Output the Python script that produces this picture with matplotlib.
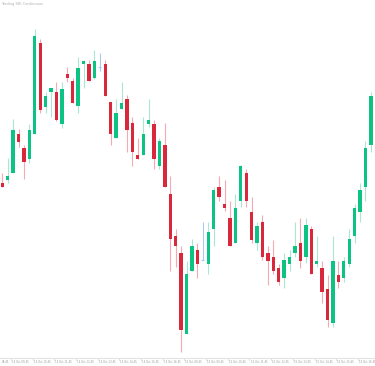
import matplotlib.pyplot as plt
import matplotlib.transforms as mtransforms

# OHLC values (one entry per candle)
opens = [174.7, 178, 185.3, 224, 210.3, 199.3, 223.7, 315.3, 251.3, 266,
         266, 234, 283.7, 276.7, 252, 294, 294, 280, 290.7, 294,
         255.7, 220.3, 248.7, 259, 234.7, 202.7, 202.7, 234.3, 234.3, 192.3,
         213.3, 164.3, 122.3, 104.7, 24, 87, 108, 97.7, 94, 129.3,
         171.3, 153.7, 139.7, 115.3, 157.3, 185.3, 146.3, 115.3, 136, 104.7,
         101.3, 90.3, 79.7, 94, 104.7, 115.3, 101.3, 129, 94, 90.3,
         69.3, 34.7, 83.3, 79.7, 94, 122, 146.3, 171.3, 213]
highs = [185, 200, 239, 229, 213, 234, 329.3, 318.7, 266.3, 269.7,
         276.3, 276.3, 290.7, 279.7, 301.3, 298, 298, 308, 304.7, 298,
         255.7, 258.7, 276.3, 263, 241.3, 219.7, 241.3, 259, 238, 220.3,
         234.7, 182, 129, 112, 97, 118.7, 114.7, 136, 136, 171.3,
         182, 178.3, 157.3, 164.3, 193, 188.7, 160.7, 136, 143, 112,
         118, 94, 104.7, 108, 136.3, 139.7, 139.7, 132.3, 122, 97.3,
         83, 122, 97.3, 101.3, 129, 153.7, 174.7, 216.7, 266.3]
lows = [171, 175, 185, 211, 179, 195.3, 223.7, 244.7, 244.7, 241.3,
        237.3, 230.3, 276.3, 254.7, 244.7, 269.7, 276.7, 278.7, 287.3, 262.3,
        213, 220.3, 248.7, 206.3, 192.3, 199.3, 202.7, 231, 188.7, 188.7,
        171.3, 87, 90.7, 6.3, 24, 87, 79.7, 97.7, 83.7, 111.7,
        157.3, 146.7, 111.7, 115.3, 151.3, 150.7, 114.7, 108, 98, 73,
        83.7, 73, 69.7, 87, 101.3, 90.3, 94.7, 83.7, 90.7, 55.3,
        30.7, 30.7, 69.7, 76.3, 90.7, 115.3, 136.3, 157.3, 206.3]
closes = [171.3, 182, 228, 216.3, 195.7, 228, 322, 248, 262.3, 269.7,
          238, 269.3, 280.3, 255.3, 290.3, 297.3, 276.7, 297.3, 290.7, 262.3,
          223.7, 245, 255.3, 227.7, 206.3, 199.3, 224, 238, 199.3, 216.7,
          171.3, 118.7, 112, 27.7, 83.7, 111.7, 94, 97.7, 125.7, 167.7,
          160.7, 150.3, 111.7, 150.3, 192, 157.3, 118, 132.3, 101.3, 97.3,
          87, 76.3, 98, 101.3, 112, 97.3, 132.7, 83.7, 97.3, 65.7,
          38, 97.3, 76.3, 97.3, 118.7, 150.3, 167.7, 209.7, 262.3]

tick_idx = [2, 6, 10, 14, 18, 22, 26, 30, 34, 38, 42, 46, 50, 54, 58, 62, 66]
tick_labels = ["14 Oct 09:45", "14 Oct 10:45", "14 Oct 11:45",
               "14 Oct 12:45", "14 Oct 13:45", "14 Oct 14:45", "14 Oct 15:45",
               "14 Oct 16:45", "15 Oct 08:45", "15 Oct 09:45", "15 Oct 10:45",
               "15 Oct 11:45", "15 Oct 12:45", "15 Oct 13:45", "15 Oct 14:45",
               "15 Oct 15:45", "15 Oct 16:45"]
first_label = "08:45"

green = "#0dc383"
red = "#d9273c"
green_wick = "#a9e8d0"
red_wick = "#f3aab3"
doji = "#a9c9f2"

fig = plt.figure(figsize=(3.75, 3.66), dpi=100)
ax = fig.add_axes([0, 8 / 366, 1, 358 / 366])

for i in range(len(opens)):
    o, h, l, c = opens[i], highs[i], lows[i], closes[i]
    if c > o:
        body_col, wick_col = green, green_wick
    elif c < o:
        body_col, wick_col = red, red_wick
    else:
        body_col, wick_col = doji, doji
    ax.vlines(i, l, h, color=wick_col, linewidth=0.8, zorder=1)
    if c == o:
        ax.hlines(o, i - 0.3, i + 0.3, color=doji, linewidth=0.8, zorder=2)
    else:
        ax.bar(i, abs(c - o), bottom=min(o, c), width=0.62,
               color=body_col, linewidth=0, zorder=2)

ax.set_xlim(-0.42, 68.76)
ax.set_ylim(0, 358)
ax.set_yticks([])
ax.set_xticks([])
for side in ["top", "right", "left"]:
    ax.spines[side].set_visible(False)
ax.spines["bottom"].set_color("#e2e2e2")
ax.spines["bottom"].set_linewidth(0.8)

trans = mtransforms.blended_transform_factory(ax.transData, ax.transAxes)
for pos, lab in zip(tick_idx, tick_labels):
    ax.plot([pos - 0.4, pos - 0.4], [0, -0.006], color="#d0d0d0",
            linewidth=0.5, transform=trans, clip_on=False)
    ax.text(pos - 0.2, -0.012, lab, transform=trans, ha="left", va="center",
            fontsize=1.9, color="#9a9a9a", clip_on=False)
ax.text(1.2, -0.012, first_label, transform=trans, ha="right", va="center",
        fontsize=1.9, color="#9a9a9a", clip_on=False)

fig.text(1 / 375, 1 - 4 / 366, "Trading SRI Continuous", ha="left",
         va="center", fontsize=2.6, color="#b0b0b0")

fig.savefig("out.png", dpi=100)
